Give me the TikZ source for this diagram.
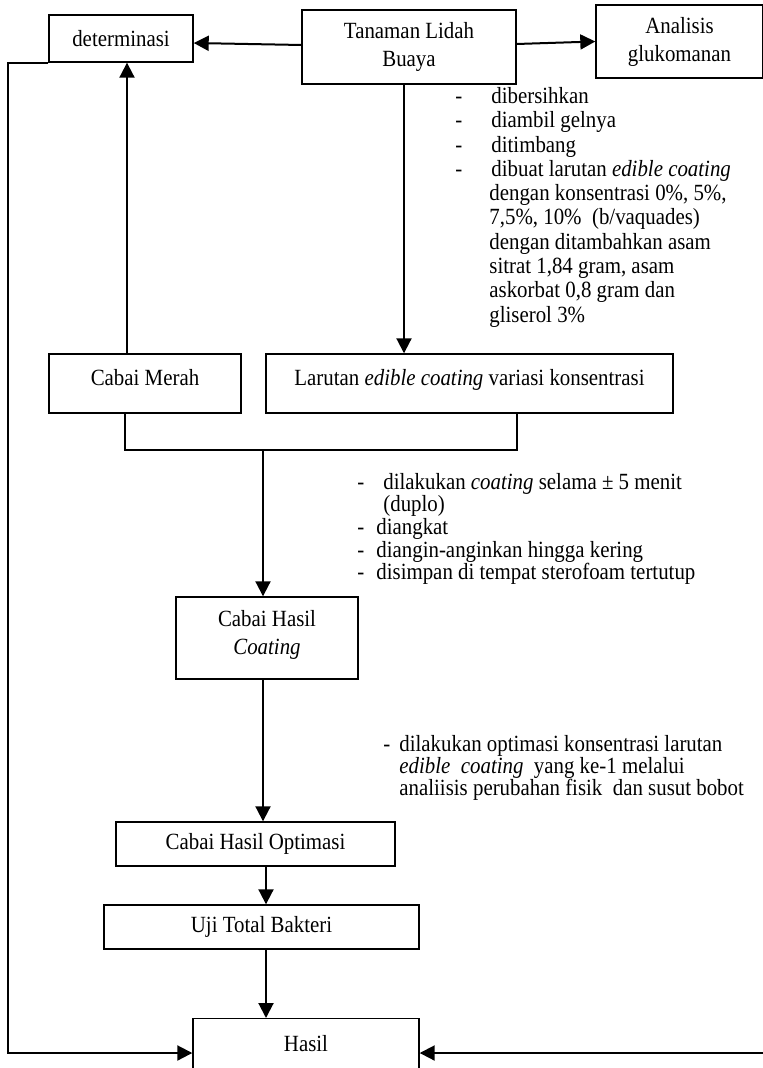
\documentclass[tikz,border=0pt]{standalone}
\usepackage{fontspec}
\setmainfont[FakeStretch=0.9]{Liberation Serif}
\usepackage{tikz}
\usetikzlibrary{arrows.meta,positioning,calc}
\tikzset{
  kotak/.style={draw,line width=0.7pt,font=\fontsize{11.6}{14}\selectfont,
                align=center,inner sep=2pt},
  panah/.style={-{Triangle[length=7.5pt,width=7.5pt]},line width=1pt},
  garis/.style={line width=0.8pt},
  ket/.style={anchor=north west,inner sep=0pt,align=left},
}
\newcommand{\tanda}[1]{\makebox[#1][l]{-}}

\begin{document}
\begin{tikzpicture}[x=0.5pt,y=-0.5pt]
  \useasboundingbox (0,0) rectangle (763,1068);
  % kotak
  \node[kotak,minimum width=72pt,minimum height=23.5pt] (det) at (121,38.5) {determinasi};
  \node[kotak,minimum width=107pt,minimum height=37pt] (tanaman) at (409,47) {Tanaman Lidah\\Buaya};
  \node[kotak,minimum width=83.5pt,minimum height=36.5pt] (analisis) at (679.5,41.5) {Analisis\\glukomanan};
  \node[kotak,minimum width=96pt,minimum height=29.5pt,text depth=6.5pt] (cabai) at (145,383.5) {Cabai Merah};
  \node[kotak,minimum width=203.5pt,minimum height=29.5pt,text depth=6.5pt] (larutan) at (469.5,383.5) {Larutan \textit{edible coating} variasi konsentrasi};
  \node[kotak,minimum width=91pt,minimum height=41pt,text depth=6pt] (coating) at (267,638) {Cabai Hasil\\\textit{Coating}};
  \node[kotak,minimum width=139.5pt,minimum height=22pt] (optimasi) at (255.5,844) {Cabai Hasil Optimasi};
  \node[kotak,minimum width=157.5pt,minimum height=22pt] (uji) at (261.5,927) {Uji Total Bakteri};
  \node[kotak,anchor=north,minimum width=113pt,minimum height=30pt,text depth=5pt] (hasil) at (306,1018) {Hasil};
  % keterangan
  \node[ket,font=\fontsize{11.6}{12.15}\selectfont] (ket1) at (455,87) {%
    \tanda{18pt}dibersihkan\\
    \tanda{18pt}diambil gelnya\\
    \tanda{18pt}ditimbang\\
    \tanda{18pt}dibuat larutan \textit{edible coating}\\
    \hspace*{17pt}dengan konsentrasi 0\%, 5\%,\\
    \hspace*{17pt}7,5\%, 10\%\ \ (b/vaquades)\\
    \hspace*{17pt}dengan ditambahkan asam\\
    \hspace*{17pt}sitrat 1,84 gram, asam\\
    \hspace*{17pt}askorbat 0,8 gram dan\\
    \hspace*{17pt}gliserol 3\%};
  \node[ket,font=\fontsize{11.6}{11.25}\selectfont] (ket2) at (357,473) {%
    \tanda{13pt}dilakukan \textit{coating} selama ± 5 menit\\
    \hspace*{13pt}(duplo)\\
    \tanda{9.5pt}diangkat\\
    \tanda{9.5pt}diangin-anginkan hingga kering\\
    \tanda{9.5pt}disimpan di tempat sterofoam tertutup};
  \node[ket,font=\fontsize{11.6}{11}\selectfont] (ket3) at (383,735) {%
    \tanda{8pt}dilakukan optimasi konsentrasi larutan\\
    \hspace*{8pt}\textit{edible\ \ coating}\ \ yang ke-1 melalui\\
    \hspace*{8pt}analiisis perubahan fisik\ \ dan susut bobot};
  % titik bantu
  \coordinate (gabung) at (263,450);
  \coordinate (sumbu) at (266,880);
  \coordinate (kiri) at (8,1053);
  \coordinate (kanan) at (763,1053);
  % panah
  \draw[panah] ([yshift=1pt]tanaman.west) -- ([yshift=-2.25pt]det.east);
  \draw[panah] ([yshift=1.5pt]tanaman.east) -- (analisis.west);
  \draw[panah] ([xshift=-2.5pt]tanaman.south) -- ([xshift=-2.5pt]tanaman.south |- larutan.north);
  \draw[panah] ([xshift=-9pt]cabai.north) -- ([xshift=-9pt]cabai.north |- det.south);
  \draw[garis] ([xshift=-10pt]cabai.south) |- (gabung) -| ([xshift=23.75pt]larutan.south);
  \draw[panah] (gabung) -- (gabung |- coating.north);
  \draw[panah] (coating.south -| gabung) -- (optimasi.north -| gabung);
  \draw[panah] (optimasi.south -| sumbu) -- (uji.north -| sumbu);
  \draw[panah] (uji.south -| sumbu) -- (hasil.north -| sumbu);
  \draw[panah] (det.south west) -| (kiri) -- (kiri -| hasil.west);
  \draw[panah] (kanan) -- (kanan -| hasil.east);
\end{tikzpicture}
\end{document}
